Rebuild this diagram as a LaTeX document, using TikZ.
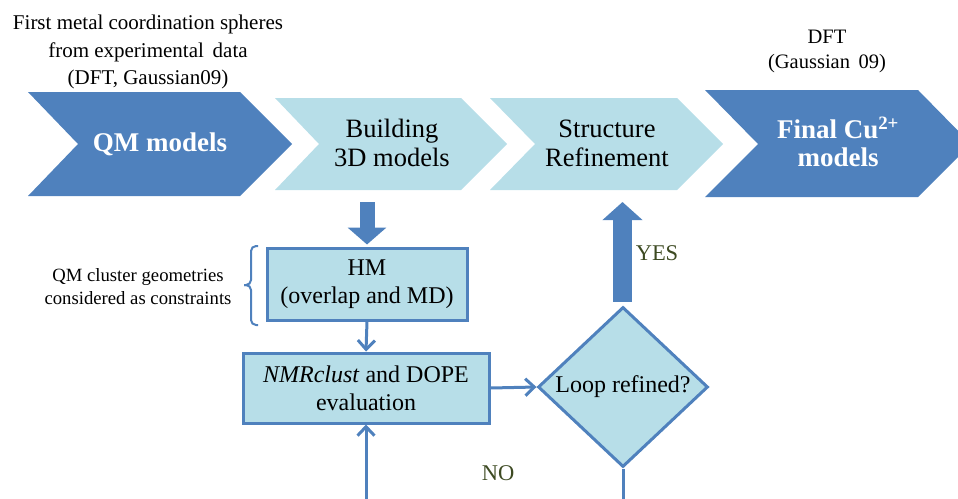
\documentclass[tikz,border=0pt]{standalone}
\usepackage{fontspec}
\setmainfont{Liberation Serif}
\usetikzlibrary{arrows.meta,shapes.geometric}
\definecolor{dblue}{HTML}{4F81BD}
\definecolor{lblue}{HTML}{B7DEE8}
\definecolor{olive}{HTML}{3D4A22}
\tikzset{
  darkchev/.style={fill=dblue},
  lightchev/.style={fill=lblue},
  chevtext/.style={align=center, inner sep=0pt, font=\fontsize{26.5}{29}\selectfont},
  chevbold/.style={align=center, inner sep=0pt, text=white, font=\fontsize{27}{28}\selectfont\bfseries},
  note/.style={align=center, inner sep=0pt, font=\fontsize{21}{27.5}\selectfont},
  procbox/.style={draw=dblue, line width=3pt, fill=lblue, align=center, inner sep=0pt, font=\fontsize{24}{28}\selectfont},
  thin/.style={draw=dblue, line width=3pt, -{Straight Barb[length=9pt,width=17pt,line width=3pt]}},
  block/.style={draw=dblue, line width=15pt, -{Triangle[width=38pt,length=17pt]}},
  answer/.style={text=olive, inner sep=0pt, font=\fontsize{22.5}{24}\selectfont},
}
\begin{document}
\begin{tikzpicture}[x=1pt,y=-1pt]
\useasboundingbox (0,0) rectangle (958,498);
\clip (0,0) rectangle (958,498);
% chevrons
\fill[darkchev] (28,92) -- (240,92) -- (292,144) -- (240,196) -- (28,196) -- (78,144) -- cycle;
\fill[lightchev] (275,98) -- (461,98) -- (507,144) -- (461,190) -- (275,190) -- (319,144) -- cycle;
\fill[lightchev] (490,98) -- (677,98) -- (723,144) -- (677,190) -- (490,190) -- (535,144) -- cycle;
\fill[darkchev] (705,90) -- (918,90) -- (971,144) -- (918,197) -- (705,197) -- (758,144) -- cycle;
\node[chevbold] (qm) at (160,144) {QM models};
\node[chevtext] (build) at (392,143) {Building\\3D models};
\node[chevtext] (struct) at (607,143) {Structure\\Refinement};
\node[chevbold] (final) at (838,142) {Final Cu\textsuperscript{2+}\\models};
% top notes
\node[note] (first) at (148,52) {First metal coordination spheres\\from experimental\, data\\(DFT, Gaussian09)};
\node[note, font=\fontsize{20.5}{25}\selectfont] (dft) at (827,51) {DFT\\(Gaussian\, 09)};
% process
\node[procbox, minimum width=200pt, minimum height=72pt] (hm) at (367,284) {HM\\(overlap and MD)};
\node[procbox, minimum width=246pt, minimum height=70pt] (nmr) at (366,388) {\textit{NMRclust} and DOPE\\evaluation};
\node[diamond, draw=dblue, line width=3pt, fill=lblue, inner sep=0pt, minimum width=170pt, minimum height=160pt, aspect=1.06, font=\fontsize{24}{28}\selectfont] (loop) at (623,387) {\makebox[0pt]{Loop refined?}};
% brace and note
\draw[dblue, line width=2pt, rounded corners=5pt] (258,246) -- (251,246) -- (251,285) -- (244,285);
\draw[dblue, line width=2pt, rounded corners=5pt] (244,285) -- (251,285) -- (251,325) -- (258,325);
\node[note, font=\fontsize{18.7}{23}\selectfont] (qmc) at (138,287) {QM cluster geometries\\considered as constraints};
% connectors
\coordinate (bstart) at (367,202);
\coordinate (send) at (622.5,202);
\coordinate (noR) at (623,506);
\coordinate (noL) at (366,506);
\draw[block] (bstart) -- ([yshift=2pt]hm.north);
\draw[block, line width=19pt, -{Triangle[width=39pt,length=18pt]}] ([xshift=-0.5pt,yshift=4pt]loop.north) -- (send);
\draw[thin] (hm.south) -- (nmr.north);
\draw[thin] (nmr.east) -- (loop.west);
\draw[thin] (loop.south) -- (noR) -- (noL) -- (nmr.south);
\node[answer] (yes) at (657,253) {YES};
\node[answer] (no) at (498,473) {NO};
\end{tikzpicture}
\end{document}
